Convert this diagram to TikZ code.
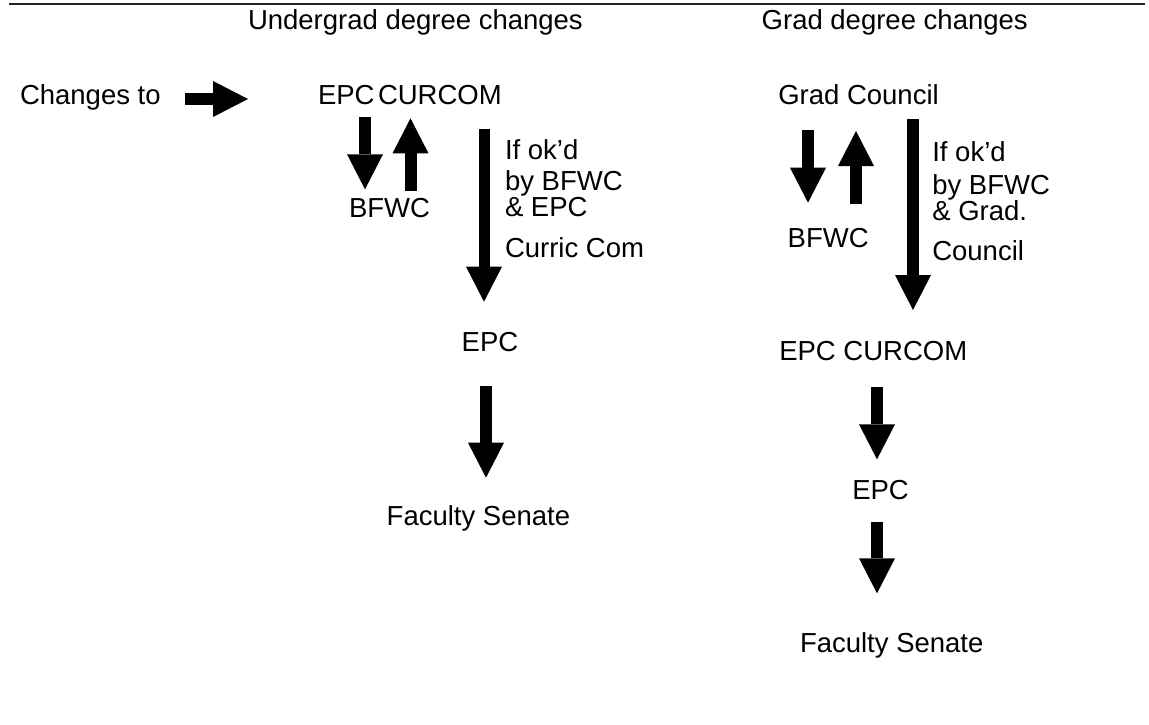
\documentclass[tikz,border=0pt]{standalone}
\usepackage{fontspec}
\setmainfont{Liberation Sans}
\usetikzlibrary{arrows.meta}
\tikzset{
  lbl/.style={anchor=base west, inner sep=0pt, outer sep=0pt, font=\fontsize{27.5}{33}\selectfont},
  blockarrow/.style={line width=12pt, draw=black,
    -{Triangle[length=35pt, width=36pt, line width=0pt]}},
  longarrow/.style={blockarrow, line width=11pt}
}
\begin{document}
\begin{tikzpicture}[x=1pt, y=-1pt]
\useasboundingbox (0,0) rectangle (1149,725);
% top rule
\coordinate (ruleL) at (9,4.5);
\coordinate (ruleR) at (1145,4.5);
\draw[line width=2pt, black!85] (ruleL) -- (ruleR);
% titles
\node[lbl] (title1) at (248,30) {Undergrad degree changes};
\node[lbl] (title2) at (761.7,30) {Grad degree changes};
% left entry
\node[lbl] (changes) at (20,104) {Changes to};
\coordinate (ca1) at (185,99);
\coordinate (ca2) at (248,99);
\draw[blockarrow] (ca1) -- (ca2);
% undergrad column
\node[lbl] (ugcur) at (318,104) {{\spaceskip=3.5pt plus 0pt EPC CURCOM}};
\node[lbl] (ugbfwc) at (349,217) {BFWC};
\coordinate (ud1) at (365,117.3);
\coordinate (ud2) at (365,189.3);
\draw[blockarrow] (ud1) -- (ud2);
\coordinate (uu1) at (410.5,190.7);
\coordinate (uu2) at (410.5,118.3);
\draw[blockarrow] (uu1) -- (uu2);
\coordinate (ul1) at (484,129);
\coordinate (ul2) at (484,301.7);
\draw[longarrow] (ul1) -- (ul2);
\node[lbl] (ugt1) at (505,159) {If ok’d};
\node[lbl] (ugt2) at (505,190) {by BFWC};
\node[lbl] (ugt3) at (505,216.7) {\& EPC};
\node[lbl] (ugt4) at (505,257) {Curric Com};
\node[lbl] (ugepc) at (461.7,351.7) {EPC};
\coordinate (ue1) at (486,386);
\coordinate (ue2) at (486,477.7);
\draw[blockarrow] (ue1) -- (ue2);
\node[lbl] (ugfs) at (386.7,525) {Faculty Senate};
% grad column
\node[lbl] (gcouncil) at (778.3,104) {Grad Council};
\coordinate (gd1) at (808,130);
\coordinate (gd2) at (808,202.7);
\draw[blockarrow] (gd1) -- (gd2);
\coordinate (gu1) at (856,204);
\coordinate (gu2) at (856,131);
\draw[blockarrow] (gu1) -- (gu2);
\node[lbl] (gbfwc) at (787.7,247.7) {BFWC};
\coordinate (gl1) at (913,119.3);
\coordinate (gl2) at (913,310);
\draw[blockarrow] (gl1) -- (gl2);
\node[lbl] (gt1) at (932.3,161.7) {If ok’d};
\node[lbl] (gt2) at (932.3,194) {by BFWC};
\node[lbl] (gt3) at (932.3,220) {\& Grad.};
\node[lbl] (gt4) at (932.3,260) {Council};
\node[lbl] (gcur) at (779.3,360) {EPC CURCOM};
\coordinate (ga1) at (877,387.3);
\coordinate (ga2) at (877,459.3);
\draw[blockarrow] (ga1) -- (ga2);
\node[lbl] (gepc) at (852.3,499.3) {EPC};
\coordinate (gb1) at (877,521.7);
\coordinate (gb2) at (877,593.3);
\draw[blockarrow] (gb1) -- (gb2);
\node[lbl] (gfs) at (800,652.7) {Faculty Senate};
\end{tikzpicture}
\end{document}
